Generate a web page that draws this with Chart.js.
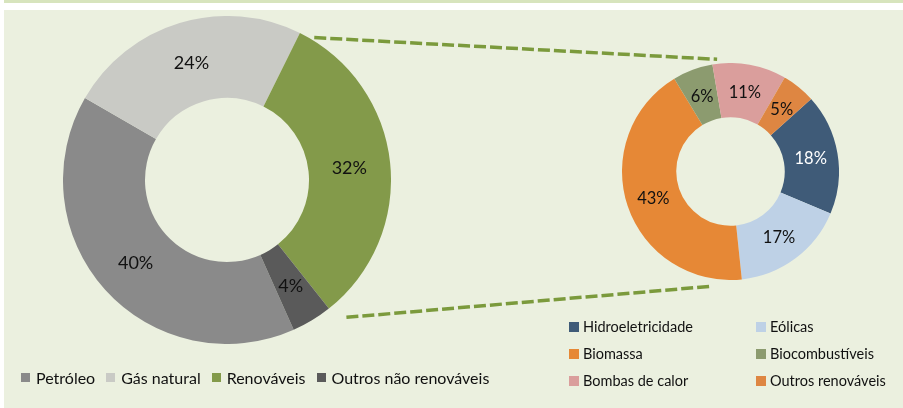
<!DOCTYPE html>
<html>
<head>
<meta charset="utf-8">
<script src="https://cdn.jsdelivr.net/npm/chart.js@4.4.1/dist/chart.umd.min.js"></script>
<style>
  body { margin: 0; background: #ffffff; width: 903px; height: 408px; overflow: hidden; position: relative; font-family: Lato, "Open Sans", sans-serif; }
  #strip { position: absolute; left: 4px; top: 0; width: 899px; height: 3px; background: #D7E4BD; }
  #panel { position: absolute; left: 4px; top: 10px; width: 899px; height: 398px; background: #EBF0DF; }
  canvas { position: absolute; }
  #bigCanvas { left: 63px; top: 16px; }
  #smallCanvas { left: 622px; top: 63px; }
  #lines { left: 0; top: 0; pointer-events: none; }
  .legend { position: absolute; color: #111111; }
  .legend .item { display: flex; align-items: center; white-space: nowrap; }
  .legend .box { display: inline-block; }
  #bigLegend { left: 21px; top: 368px; display: flex; font-size: 16px; }
  #bigLegend .item { margin-right: 11px; }
  #bigLegend .box { width: 9px; height: 9px; margin-right: 6px; }
  #smallLegend { left: 569px; top: 313px; display: grid; grid-template-columns: 187px 140px; grid-auto-rows: 27px; font-size: 14.5px; }
  #smallLegend .box { width: 10px; height: 10px; margin-right: 4px; }
</style>
</head>
<body>
<div id="strip"></div>
<div id="panel"></div>
<canvas id="bigCanvas" width="328" height="328"></canvas>
<canvas id="smallCanvas" width="217" height="217"></canvas>
<canvas id="lines" width="903" height="408"></canvas>
<div id="bigLegend" class="legend"></div>
<div id="smallLegend" class="legend"></div>
<script>
// main energy mix
var mixLabels = ["Petróleo", "Gás natural", "Renováveis", "Outros não renováveis"];
var mixValues = [40, 24, 32, 4];
var mixColors = ["#8A8A8A", "#C9CAC5", "#839A4A", "#5A5A5A"];

// renewables breakdown
var renLabels = ["Hidroeletricidade", "Eólicas", "Biomassa", "Biocombustíveis", "Bombas de calor", "Outros renováveis"];
var renValues = [18, 17, 43, 6, 11, 5];
var renColors = ["#3F5B78", "#BED1E6", "#E68836", "#8C9B6F", "#DA9E9C", "#DE8642"];
var renLabelColors = ["#ffffff", "#111111", "#111111", "#111111", "#111111", "#111111"];

// draws the % text in the middle of each slice
var sliceLabels = {
  id: "sliceLabels",
  afterDatasetsDraw: function(chart, args, opts) {
    var ctx = chart.ctx;
    var meta = chart.getDatasetMeta(0);
    var values = chart.data.datasets[0].data;
    ctx.save();
    ctx.font = opts.size + "px Lato, sans-serif";
    ctx.textAlign = "center";
    ctx.textBaseline = "middle";
    meta.data.forEach(function(arc, i) {
      var p = arc.tooltipPosition();
      ctx.fillStyle = opts.colors ? opts.colors[i] : "#111111";
      ctx.fillText(values[i] + "%", p.x, p.y + 1);
    });
    ctx.restore();
  }
};

var bigChart = new Chart(document.getElementById("bigCanvas"), {
  type: "doughnut",
  data: {
    labels: mixLabels,
    datasets: [{ data: mixValues, backgroundColor: mixColors, borderWidth: 0 }]
  },
  options: {
    responsive: false,
    animation: false,
    rotation: 156,
    cutout: "50%",
    layout: { padding: 0 },
    plugins: {
      legend: { display: false },
      tooltip: { enabled: false },
      sliceLabels: { size: 18 }
    }
  },
  plugins: [sliceLabels]
});

var smallChart = new Chart(document.getElementById("smallCanvas"), {
  type: "doughnut",
  data: {
    labels: renLabels,
    datasets: [{ data: renValues, backgroundColor: renColors, borderWidth: 0 }]
  },
  options: {
    responsive: false,
    animation: false,
    rotation: 48,
    cutout: "50%",
    layout: { padding: 0 },
    plugins: {
      legend: { display: false },
      tooltip: { enabled: false },
      sliceLabels: { size: 16.5, colors: renLabelColors }
    }
  },
  plugins: [sliceLabels]
});

// legends
function buildLegend(el, labels, colors) {
  labels.forEach(function(l, i) {
    var item = document.createElement("div");
    item.className = "item";
    var box = document.createElement("span");
    box.className = "box";
    box.style.background = colors[i];
    item.appendChild(box);
    item.appendChild(document.createTextNode(l));
    el.appendChild(item);
  });
}
buildLegend(document.getElementById("bigLegend"), mixLabels, mixColors);
buildLegend(document.getElementById("smallLegend"), renLabels, renColors);

// dashed connector lines from the renewables slice to the small donut
function pagePoint(chart, canvasId, deg, extra) {
  var arc = chart.getDatasetMeta(0).data[0];
  var c = document.getElementById(canvasId);
  var a = (deg - 90) * Math.PI / 180;
  var r = arc.outerRadius + extra;
  return { x: c.offsetLeft + arc.x + r * Math.cos(a), y: c.offsetTop + arc.y + r * Math.sin(a) };
}
var lctx = document.getElementById("lines").getContext("2d");
lctx.strokeStyle = "#7B9A3C";
lctx.lineWidth = 3.5;
lctx.setLineDash([12, 4]);
var segs = [
  [pagePoint(bigChart, "bigCanvas", 31.5, 3), pagePoint(smallChart, "smallCanvas", -6.8, 4.5)],
  [pagePoint(bigChart, "bigCanvas", 139, 18), pagePoint(smallChart, "smallCanvas", 188.7, 7.5)]
];
segs.forEach(function(s) {
  lctx.beginPath();
  lctx.moveTo(s[0].x, s[0].y);
  lctx.lineTo(s[1].x, s[1].y);
  lctx.stroke();
});
</script>
</body>
</html>
